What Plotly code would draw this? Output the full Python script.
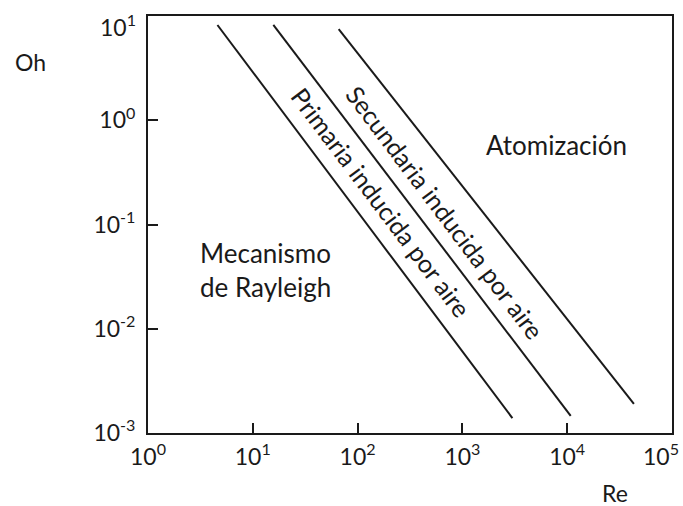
import plotly.graph_objects as go

# Regime boundary lines (Re, Oh) end points
re_primaria = [4.6, 3000]
oh_primaria = [8.2, 1.39e-3]
re_secundaria = [15.7, 10800]
oh_secundaria = [8.2, 1.46e-3]
re_atomizacion = [66, 43300]
oh_atomizacion = [7.5, 1.90e-3]

x_tickvals = [1, 10, 100, 1000, 10000, 100000]
x_ticktext = ["10<sup>0</sup>", "10<sup>1</sup>", "10<sup>2</sup>", "10<sup>3</sup>", "10<sup>4</sup>", "10<sup>5</sup>"]
y_tickvals = [1e-3, 1e-2, 1e-1, 1, 10]
y_ticktext = ["10<sup>-3</sup>", "10<sup>-2</sup>", "10<sup>-1</sup>", "10<sup>0</sup>", "10<sup>1</sup>"]

FONT = "Lato"
INK = "#1a1a1a"

fig = go.Figure()
for xs, ys in [(re_primaria, oh_primaria), (re_secundaria, oh_secundaria), (re_atomizacion, oh_atomizacion)]:
    fig.add_trace(go.Scatter(x=xs, y=ys, mode="lines", line=dict(color=INK, width=2),
                             showlegend=False, hoverinfo="skip", cliponaxis=False))

# the outermost labels sit at the figure edges; they are drawn as annotations so they stay inside
x_text_axis = x_ticktext[:-1] + [""]
y_text_axis = y_ticktext[:-1] + [""]

fig.update_xaxes(type="log", range=[0, 5], tickvals=x_tickvals, ticktext=x_text_axis,
                 ticks="inside", ticklen=10, tickwidth=2, tickcolor=INK,
                 showline=True, linecolor=INK, linewidth=2, mirror=True,
                 showgrid=False, zeroline=False, ticklabeloverflow="allow", automargin=False,
                 tickfont=dict(family=FONT, size=23, color=INK), ticklabelstandoff=2)
fig.update_yaxes(type="log", range=[-3, 1], tickvals=y_tickvals, ticktext=y_text_axis,
                 ticks="inside", ticklen=10, tickwidth=2, tickcolor=INK,
                 showline=True, linecolor=INK, linewidth=2, mirror=True,
                 showgrid=False, zeroline=False, ticklabeloverflow="allow", automargin=False,
                 tickfont=dict(family=FONT, size=23, color=INK), ticklabelstandoff=6)

def note(text, x, y, angle=0, align="center", xanchor="center", size=26):
    fig.add_annotation(text=text, xref="paper", yref="paper", x=x, y=y, showarrow=False,
                       textangle=angle, align=align, xanchor=xanchor, yanchor="middle",
                       font=dict(family=FONT, size=size, color=INK))

note("Primaria inducida por aire", 0.445, 0.554, angle=53, size=25)
note("Secundaria inducida por aire", 0.567, 0.530, angle=53, size=25)
note("Atomización", 0.779, 0.691)
note("Mecanismo<br>de Rayleigh", 0.095, 0.391, align="left", xanchor="left")
note("Oh", -0.225, 0.890, size=23)
note("Re", 0.891, -0.144, size=23)
note(x_ticktext[-1], 1.018, -0.052, xanchor="right", size=23)
note(y_ticktext[-1], -0.020, 0.978, xanchor="right", size=23)

fig.update_layout(width=683, height=506, margin=dict(l=148, r=11, t=16, b=73, autoexpand=False),
                  plot_bgcolor="white", paper_bgcolor="white")

fig.write_html("out.html")
